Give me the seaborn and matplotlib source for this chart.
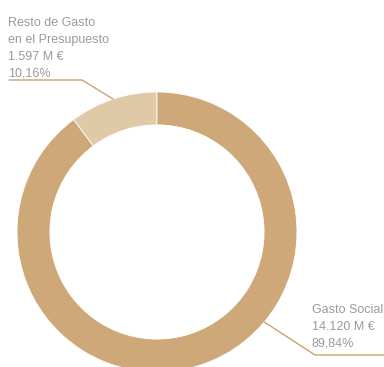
import numpy as np
import seaborn as sns
import matplotlib.pyplot as plt

categories = ['Resto de Gasto\nen el Presupuesto', 'Gasto Social']
amounts = ['1.597 M €', '14.120 M €']
shares = [10.16, 89.84]
colors = ['#e0c9a6', '#cea878']

sns.set_style('white')
plt.rcParams['font.family'] = ['Liberation Sans', 'DejaVu Sans']

W, H = 384, 367
CX, CY, R = 157, 232, 140


def px(x, y):
    """Pixel position (from top-left) to data units of the pie."""
    return (x - CX) / R, (CY - y) / R


def label(i):
    pct = f'{shares[i]:.2f}%'.replace('.', ',')
    return f'{categories[i]}\n{amounts[i]}\n{pct}'


fig = plt.figure(figsize=(W / 100, H / 100), dpi=100)
ax = fig.add_axes([0, 0, 1, 1])
ax.pie(shares, colors=sns.color_palette(colors), startangle=90, counterclock=True,
       radius=1, wedgeprops=dict(width=0.235, edgecolor='white', linewidth=0.6))
ax.set_xlim(px(0, 0)[0], px(W, 0)[0])
ax.set_ylim(px(0, H)[1], px(0, 0)[1])
ax.set_aspect('auto')
ax.axis('off')

line_col = '#c9a46f'
text_col = '#9b9b9b'

# Resto de Gasto: leader from wedge mid angle
mid = np.deg2rad(90 + shares[0] / 100 * 360 / 2)
p0 = (np.cos(mid), np.sin(mid))
ax.plot([p0[0], px(82, 80)[0], px(9, 80)[0]], [p0[1], px(82, 80)[1], px(9, 80)[1]],
        color=line_col, lw=1)
tx, ty = px(8, 80)
ax.text(tx, ty, label(0), ha='left', va='bottom', fontsize=9,
        color=text_col, linespacing=1.55)

# Gasto Social
ang = np.deg2rad(-40)
p1 = (np.cos(ang), np.sin(ang))
ax.plot([p1[0], px(315, 355)[0], px(384, 355)[0]], [p1[1], px(315, 355)[1], px(384, 355)[1]],
        color=line_col, lw=1)
tx, ty = px(312, 350)
ax.text(tx, ty, label(1), ha='left', va='bottom', fontsize=9,
        color=text_col, linespacing=1.55)

fig.savefig('out.png', dpi=100)
